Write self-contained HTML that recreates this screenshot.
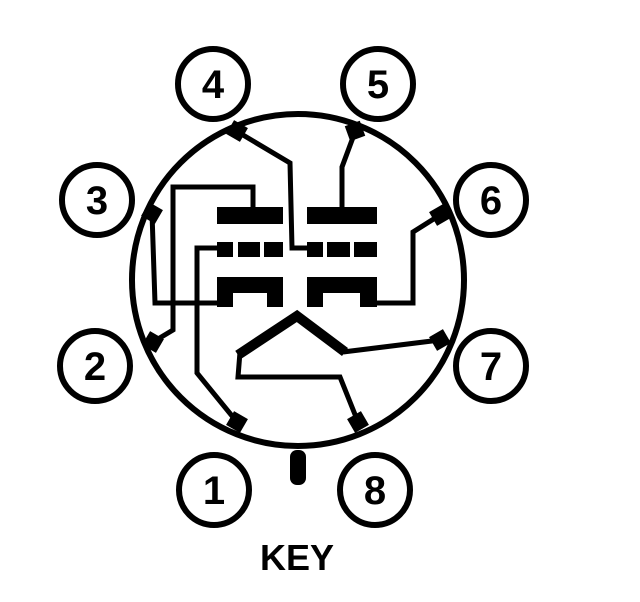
<!DOCTYPE html>
<html><head><style>html,body{margin:0;padding:0;background:#fff}svg{display:block}</style></head><body>
<svg width="640" height="602" viewBox="0 0 640 602" xmlns="http://www.w3.org/2000/svg">
<g fill="none" stroke="#000" stroke-width="6">
<circle cx="298" cy="280" r="166"/>
<circle cx="213" cy="84" r="35"/>
<circle cx="378" cy="84" r="35"/>
<circle cx="97" cy="200" r="35"/>
<circle cx="491" cy="200" r="35"/>
<circle cx="95" cy="366" r="35"/>
<circle cx="491" cy="366" r="35"/>
<circle cx="214" cy="490" r="35"/>
<circle cx="375" cy="490" r="35"/>
</g>
<g fill="none" stroke="#000" stroke-width="5" stroke-linejoin="miter">
<polyline points="238,132 290,163 292,248 307,248"/>
<polyline points="355,132 342,167 342,209"/>
<polyline points="253,209 253,187 173,187 173,330 153,342"/>
<polyline points="152,213 155,303 217,303"/>
<polyline points="217,248 197,248 197,373 237,422"/>
<polyline points="377,303 413,303 413,232 440,215"/>
<polyline points="343,352 440,340"/>
<polyline points="240,352 238,377 340,377 358,422"/>
</g>
<polyline points="238,355 297,316 345,352" fill="none" stroke="#000" stroke-width="10" stroke-linejoin="miter"/>
<g fill="#000">
<rect x="217" y="207" width="66" height="17"/>
<rect x="307" y="207" width="70" height="17"/>
<rect x="217" y="242" width="16" height="15"/><rect x="238" y="242" width="22" height="15"/><rect x="264" y="242" width="19" height="15"/>
<rect x="307" y="242" width="16" height="15"/><rect x="327" y="242" width="23" height="15"/><rect x="354" y="242" width="23" height="15"/>
<path d="M217 277h66v30h-16v-14h-34v14h-16z"/>
<path d="M307 277h70v30h-17v-14h-37v14h-16z"/>
<rect x="229" y="123" width="16" height="16" transform="rotate(30 237 131)"/>
<rect x="347" y="123" width="16" height="16" transform="rotate(-20 355 131)"/>
<rect x="144" y="205" width="16" height="16" transform="rotate(-60 152 213)"/>
<rect x="432" y="207" width="16" height="16" transform="rotate(60 440 215)"/>
<rect x="145" y="334" width="16" height="16" transform="rotate(-60 153 342)"/>
<rect x="432" y="332" width="16" height="16" transform="rotate(60 440 340)"/>
<rect x="229" y="414" width="16" height="16" transform="rotate(30 237 422)"/>
<rect x="350" y="414" width="16" height="16" transform="rotate(-30 358 422)"/>
<rect x="290" y="450" width="16" height="35" rx="7"/>
</g>
<g font-family="Liberation Sans, sans-serif" font-weight="bold" font-size="40" text-anchor="middle">
<text x="213" y="98">4</text>
<text x="378" y="98">5</text>
<text x="97" y="214">3</text>
<text x="491" y="214">6</text>
<text x="95" y="380">2</text>
<text x="491" y="380">7</text>
<text x="214" y="504">1</text>
<text x="375" y="504">8</text>
<text x="297" y="570" font-size="36">KEY</text>
</g>
</svg>
</body></html>
